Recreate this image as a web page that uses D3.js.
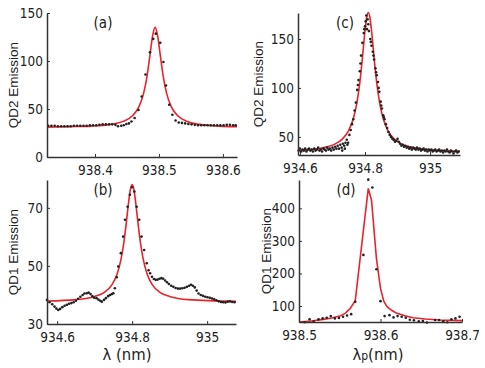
<!DOCTYPE html>
<html>
<head>
<meta charset="utf-8">
<script src="https://cdn.jsdelivr.net/npm/d3@7"></script>
<style>
  body { margin: 0; background: #fff; }
  .tick text { font-family: "Liberation Sans Narrow", "Arial Narrow", "DejaVu Sans Condensed", sans-serif; }
</style>
</head>
<body>
<div id="chart"></div>
<script>
// ---- data: [wavelength, counts] ----
var dotsA = [[938.327,32.5],[938.332,32.5],[938.337,32.5],[938.342,32],[938.347,32],[938.352,32],[938.357,32],[938.362,32],
  [938.367,32.5],[938.372,32.5],[938.377,32.5],[938.382,32.5],[938.387,32.5],[938.392,33],[938.397,33],[938.402,33],
  [938.407,33.5],[938.412,34],[938.417,34],[938.422,34],[938.427,34],[938.432,33.5],[938.436,32],[938.441,32.5],
  [938.445,33],[938.449,34.3],[938.453,35],[938.457,37],[938.462,40.6],[938.468,49],[938.473,63],[938.479,86],
  [938.486,109],[938.491,123],[938.495,128.5],[938.502,119],[938.507,99],[938.511,74.5],[938.516,54.5],[938.521,44],
  [938.526,38],[938.531,36],[938.536,35.5],[938.541,35],[938.546,34.5],[938.551,34],[938.556,33.5],[938.561,33],
  [938.566,33],[938.571,33],[938.576,33],[938.581,33],[938.586,33],[938.591,33],[938.596,33],[938.601,33],
  [938.606,33.5],[938.611,33.5],[938.616,33],[938.620,33]];
var fitA = [[938.325,31.1],[938.36,31.6],[938.394,32.2],[938.424,34],[938.444,37.1],[938.459,43.2],[938.469,52.7],
  [938.476,66.3],[938.481,82.7],[938.486,106.3],[938.490,125.9],[938.494,135],[938.498,125.9],[938.502,106.3],
  [938.507,82.7],[938.512,66.3],[938.519,52.7],[938.529,43.2],[938.544,37.1],[938.564,34],[938.594,32.2],[938.622,31.6]];

var dotsB = [[934.573,38.3],[934.580,37.5],[934.587,36.8],[934.593,36],[934.598,35.3],[934.603,34.8],[934.608,35.2],
  [934.614,35.8],[934.620,36.3],[934.626,36.6],[934.632,37],[934.638,37.2],[934.644,37.5],[934.650,38],[934.656,38.7],
  [934.662,39.4],[934.668,40],[934.673,40.5],[934.679,40.6],[934.684,40.8],[934.689,40.3],[934.694,39.6],[934.699,39],
  [934.705,38.9],[934.710,38.4],[934.715,38],[934.719,37.7],[934.725,38.3],[934.730,38.9],[934.736,39.6],[934.741,40],
  [934.746,40.3],[934.750,40.6],[934.754,42.3],[934.759,46.1],[934.763,49.8],[934.770,54.4],[934.776,60.1],
  [934.781,65.9],[934.788,70.4],[934.794,74.5],[934.800,77.1],[934.806,75.6],[934.812,70.4],[934.819,65.9],
  [934.825,60.1],[934.832,55.5],[934.839,50.9],[934.844,48.5],[934.848,47.5],[934.853,46.3],[934.858,45.5],
  [934.863,45.2],[934.868,45.3],[934.873,45.6],[934.878,45.8],[934.883,45.6],[934.888,45],[934.893,44.4],
  [934.898,43.8],[934.904,43.2],[934.910,42.8],[934.916,42.4],[934.922,42.2],[934.928,42.2],[934.934,42.3],
  [934.940,42.5],[934.946,42.8],[934.952,43.2],[934.957,43.5],[934.962,43.2],[934.967,42.6],[934.972,41.5],
  [934.977,40.5],[934.983,40],[934.989,39.7],[934.995,39.4],[935.001,39.2],[935.007,39],[935.013,38.8],
  [935.019,38.5],[935.025,38.2],[935.031,37.8],[935.037,37.6],[935.043,37.5],[935.049,37.4],[935.055,37.7],
  [935.061,37.8],[935.067,37.6],[935.073,37.5]];
var fitB = [[934.573,37.9],[934.65,38.4],[934.70,39.5],[934.725,40.8],[934.745,43.3],[934.76,47.2],[934.77,52.1],
  [934.7775,57.7],[934.785,65.5],[934.79,71.3],[934.795,76.1],[934.8,78],[934.805,76.1],[934.81,71.3],[934.815,65.5],
  [934.8225,57.7],[934.83,52.1],[934.84,47.2],[934.855,43.3],[934.875,40.8],[934.9,39.5],[934.95,38.4],[935.077,37.8]];

var dotsC = [[934.596,36],[934.600,38],[934.604,35],[934.608,37],[934.612,36],[934.616,38],[934.620,35],[934.624,37],
  [934.628,38],[934.632,36],[934.636,37],[934.640,35],[934.644,38],[934.648,36],[934.652,37],[934.656,39],
  [934.660,36],[934.664,37],[934.668,35],[934.672,38],[934.676,37],[934.680,36],[934.684,39],[934.688,37],
  [934.692,38],[934.696,36],[934.700,39],[934.704,37],[934.708,40],[934.712,38],[934.716,41],[934.720,38],
  [934.724,42],[934.728,39],[934.732,43],[934.736,41],[934.740,44],[934.744,47],[934.748,44],[934.752,52],
  [934.756,57],[934.760,63],[934.764,68],[934.768,77],[934.772,85],[934.776,98],[934.780,108],[934.784,117],
  [934.788,133],[934.792,146],[934.796,156],[934.800,163],[934.804,174],[934.808,170],[934.812,158],[934.816,150],
  [934.820,143],[934.824,137],[934.828,129],[934.832,120],[934.836,113],[934.840,106],[934.844,96],[934.848,86],
  [934.852,79],[934.856,72],[934.860,68],[934.864,63],[934.868,59],[934.872,55],[934.876,52],[934.880,50],
  [934.884,48],[934.888,47],[934.892,45],[934.896,46],[934.900,48],[934.904,45],[934.908,43],[934.912,41],
  [934.916,42],[934.920,40],[934.924,41],[934.928,39],[934.932,40],[934.936,38],[934.940,39],[934.944,37],
  [934.948,39],[934.952,38],[934.956,37],[934.960,39],[934.964,37],[934.968,38],[934.972,36],[934.976,37],
  [934.980,38],[934.984,36],[934.988,37],[934.992,35],[934.996,37],[935.000,36],[935.004,37],[935.008,35],
  [935.012,36],[935.016,37],[935.020,35],[935.024,36],[935.028,37],[935.032,35],[935.036,36],[935.040,34],
  [935.044,36],[935.048,35],[935.052,37],[935.056,35],[935.060,34],[935.064,36],[935.068,35],[935.072,33],
  [935.076,35],[935.080,36],[935.084,34],[935.088,35],
  [934.730,36],[934.738,38],[934.746,42],[934.778,103],[934.786,125],[934.798,160],[934.802,168],[934.806,160],
  [934.810,165],[934.818,147],[934.826,133],[934.834,116],[934.842,100],[934.850,82],[934.858,70]];
var fitC = [[934.594,36.1],[934.61,36.4],[934.67,38.8],[934.71,43.1],[934.73,47.7],[934.75,56.6],[934.765,69.8],
  [934.775,84.8],[934.784,105.5],[934.79,123.8],[934.795,141.3],[934.80,158.6],[934.805,171.9],[934.81,177],
  [934.815,171.9],[934.82,158.6],[934.825,141.3],[934.83,123.8],[934.836,105.5],[934.845,84.8],[934.855,69.8],
  [934.87,56.6],[934.89,47.7],[934.91,43.1],[934.95,38.8],[935.01,36.4],[935.092,35.2]];

var dotsD = [[938.507,50],[938.513,59],[938.518,52],[938.524,59],[938.529,62],[938.534,64],[938.539,69],[938.544,62],
  [938.549,63],[938.554,67],[938.559,71],[938.564,75],[938.569,113],[938.579,257],[938.585,488],[938.590,464],
  [938.595,213],[938.600,115],[938.605,69],[938.611,72],[938.616,65],[938.621,69],[938.626,67],[938.631,64],
  [938.636,58],[938.641,56],[938.647,53],[938.652,54],[938.657,49],[938.667,57],[938.672,57],[938.677,53],
  [938.682,50],[938.687,59],[938.692,62],[938.697,67]];
var fitD = [[938.5,51],[938.515,54],[938.53,59],[938.54,63],[938.55,69],[938.557,78],[938.563,93],[938.569,116],
  [938.585,461],[938.589,425],[938.595,246],[938.6,154],[938.604,115],[938.608,98],[938.614,86],[938.62,78],
  [938.63,70],[938.64,64],[938.655,60],[938.673,57],[938.7,55]];

var ticksXA = [938.4, 938.5, 938.6], ticksYA = [0, 50, 100, 150];
var ticksXB = [934.6, 934.8, 935],   ticksYB = [30, 50, 70];
var ticksXC = [934.6, 934.8, 935],   ticksYC = [50, 100, 150];
var ticksXD = [938.5, 938.6, 938.7], ticksYD = [100, 200, 300, 400];

var width = 485, height = 368;
var narrow = '"Liberation Sans Narrow", "Arial Narrow", "DejaVu Sans Condensed", sans-serif';
var regular = '"Liberation Sans", Arial, sans-serif';

var svg = d3.select("#chart").append("svg")
    .attr("width", width)
    .attr("height", height);

var fmt935 = function (d) { return d === 935 ? "935" : d3.format(".1f")(d); };

var panels = [
  {tag: "(a)", tagx: 103, dots: dotsA, fit: fitA, xd: [938.325, 938.622], yd: [0, 150], xr: [47, 237], yr: [157, 13],
   tx: ticksXA, ty: ticksYA, fmt: d3.format(".1f"), ylab: "QD2 Emission", ylx: 18, curve: d3.curveMonotoneX},
  {tag: "(b)", tagx: 103, dots: dotsB, fit: fitB, xd: [934.573, 935.077], yd: [30, 79.6], xr: [47, 236], yr: [324, 180],
   tx: ticksXB, ty: ticksYB, fmt: fmt935, ylab: "QD1 Emission", ylx: 18, curve: d3.curveMonotoneX},
  {tag: "(c)", tagx: 345, dots: dotsC, fit: fitC, xd: [934.594, 935.092], yd: [31.5, 176.5], xr: [298, 460], yr: [155, 13],
   tx: ticksXC, ty: ticksYC, fmt: fmt935, ylab: "QD2 Emission", ylx: 263, curve: d3.curveMonotoneX},
  {tag: "(d)", tagx: 346, dots: dotsD, fit: fitD, xd: [938.5, 938.7], yd: [50.9, 487], xr: [299, 462], yr: [322, 180],
   tx: ticksXD, ty: ticksYD, fmt: d3.format(".1f"), ylab: "QD1 Emission", ylx: 271, curve: d3.curveLinear}
];

panels.forEach(function (p) {
    var x = d3.scaleLinear().domain(p.xd).range(p.xr);
    var y = d3.scaleLinear().domain(p.yd).range(p.yr);
    var g = svg.append("g");

    var line = d3.line()
        .x(function (d) { return x(d[0]); })
        .y(function (d) { return y(d[1]); })
        .curve(p.curve);

    g.append("path")
        .datum(p.fit)
        .attr("d", line)
        .attr("fill", "none")
        .attr("stroke", "#e8232b")
        .attr("stroke-width", 1.6);

    g.selectAll("circle")
        .data(p.dots)
        .enter().append("circle")
        .attr("cx", function (d) { return x(d[0]); })
        .attr("cy", function (d) { return y(d[1]); })
        .attr("r", 1.3)
        .attr("fill", "#222");

    var xAxis = g.append("g")
        .attr("transform", "translate(0," + p.yr[0] + ")")
        .call(d3.axisBottom(x).tickValues(p.tx).tickFormat(p.fmt)
            .tickSizeInner(-3).tickSizeOuter(0).tickPadding(8));
    var yAxis = g.append("g")
        .attr("transform", "translate(" + p.xr[0] + ",0)")
        .call(d3.axisLeft(y).tickValues(p.ty)
            .tickSizeInner(-3).tickSizeOuter(0).tickPadding(4));

    [xAxis, yAxis].forEach(function (a) {
        a.select(".domain").attr("stroke", "#333").attr("stroke-width", 1.5);
        a.selectAll(".tick line").attr("stroke", "#333");
        a.selectAll(".tick text").style("font-size", "13.5px").attr("fill", "#222");
    });

    g.append("text")
        .attr("x", p.tagx)
        .attr("y", p.yr[1] + 15)
        .attr("text-anchor", "middle")
        .style("font-family", narrow)
        .style("font-size", "15px")
        .attr("fill", "#222")
        .text(p.tag);

    g.append("text")
        .attr("transform", "translate(" + p.ylx + "," + d3.mean(p.yr) + ") rotate(-90)")
        .attr("text-anchor", "middle")
        .style("font-family", regular)
        .style("font-size", "13.5px")
        .attr("fill", "#222")
        .text(p.ylab);
});

// x axis titles
svg.append("text")
    .attr("x", 127).attr("y", 360)
    .attr("text-anchor", "middle")
    .style("font-family", narrow)
    .style("font-size", "16.5px")
    .attr("fill", "#222")
    .text("λ (nm)");

var lp = svg.append("text")
    .attr("x", 378).attr("y", 360)
    .attr("text-anchor", "middle")
    .style("font-family", narrow)
    .style("font-size", "16.5px")
    .attr("fill", "#222");
lp.append("tspan").text("λ");
lp.append("tspan").style("font-size", "12px").text("p");
lp.append("tspan").text("(nm)");
</script>
</body>
</html>
